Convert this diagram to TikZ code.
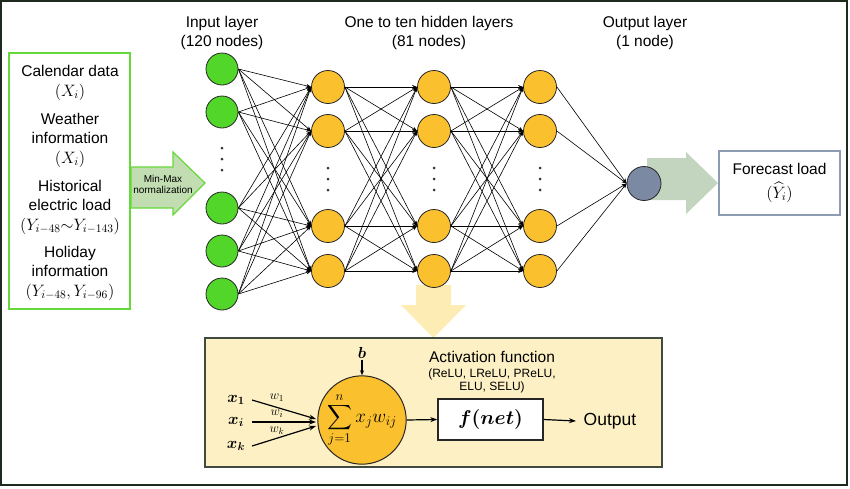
\RequirePackage{fix-cm}
\documentclass[tikz,border=0pt]{standalone}
\usepackage{amsmath}
\usepackage{bm}
\usepackage{fontspec}
\setmainfont{Liberation Sans}
\usetikzlibrary{arrows.meta}
\definecolor{ngreen}{HTML}{52D62A}
\definecolor{nyellow}{HTML}{FBC02D}
\definecolor{nout}{HTML}{7B89A3}
\definecolor{boxgreen}{HTML}{66D93A}
\definecolor{mmfill}{HTML}{C2DDB2}
\definecolor{outarrow}{HTML}{C3D4BF}
\definecolor{fcborder}{HTML}{8D9CB3}
\definecolor{botfill}{HTML}{FDF0C4}
\definecolor{downarrow}{HTML}{FDEDB5}
\definecolor{frame}{HTML}{1E2A1E}
\newcommand{\mbig}[1]{{\fontsize{16.5}{19.5}\selectfont$#1$}}
\tikzset{
  lbl/.style={font=\fontsize{15.5}{19.5}\selectfont, align=center, inner sep=0pt},
  small/.style={font=\fontsize{12}{13.5}\selectfont, align=center, inner sep=0pt},
  inn/.style={circle, draw=black!85, line width=0.8pt, fill=ngreen, minimum size=32pt, inner sep=0pt},
  hid/.style={circle, draw=black!85, line width=0.8pt, fill=nyellow, minimum size=33pt, inner sep=0pt},
  netedge/.style={line width=0.6pt, -{Stealth[length=5pt,width=4pt]}},
  dotc/.style={circle, fill=black!80, inner sep=0pt, minimum size=3pt},
  bigedge/.style={line width=1.2pt, -{Stealth[length=7pt,width=5pt]}},
}
\begin{document}
\begin{tikzpicture}[x=1pt,y=-1pt]
\useasboundingbox (0,0) rectangle (850,488);
\draw[frame, line width=1.5pt] (1,1) rectangle (847,485);

% top labels
\node[lbl] (tin) at (222,33) {Input layer\\(120 nodes)};
\node[lbl] (thid) at (429,33) {One to ten hidden layers\\(81 nodes)};
\node[lbl] (tout) at (645,33) {Output layer\\(1 node)};

% input box
\node[draw=boxgreen, line width=2pt, minimum width=121pt, minimum height=256pt, inner sep=0pt] (inbox) at (69.5,181) {};
\node[lbl] (g1) at (70,83) {Calendar data\\\mbig{(X_i)}};
\node[lbl] (g2) at (70,140) {Weather\\information\\\mbig{(X_i)}};
\node[lbl] (g3) at (70,207) {Historical\\electric load\\\mbig{(Y_{i-48}{\sim}Y_{i-143})}};
\node[lbl] (g4) at (70,273) {Holiday\\information\\\mbig{(Y_{i-48},Y_{i-96})}};

% min-max arrow
\draw[boxgreen, line width=1.2pt, fill=mmfill] (131,167) -- (173,167) -- (173,152) -- (205,183) -- (173,215) -- (173,208) -- (131,208) -- cycle;
\node[font=\fontsize{10}{11}\selectfont, align=center, inner sep=0pt] (mm) at (163,184) {Min-Max\\normalization};

% output arrow
\fill[outarrow] (647,158) -- (686,158) -- (686,152) -- (718,183) -- (686,214) -- (686,200) -- (647,200) -- cycle;

% down arrow
\fill[downarrow] (416,285) -- (451,285) -- (451,305) -- (466,305) -- (433.5,338) -- (401,305) -- (416,305) -- cycle;

% nodes
\foreach \y [count=\k] in {69,112,208,251,294} \node[inn] (i\k) at (222,\y) {};
\foreach \x/\L in {328/a,434/b,540/c}
  \foreach \y [count=\k] in {87,131,226,271} \node[hid] (\L\k) at (\x,\y) {};
\node[circle, draw=black!85, line width=0.8pt, fill=nout, minimum size=34pt, inner sep=0pt] (o) at (644,183.5) {};

% dots
\foreach \y [count=\k] in {148,159,170} \node[dotc] (di\k) at (222,\y) {};
\foreach \x/\L in {328/a,434/b,540/c}
  \foreach \y [count=\k] in {168,179,190} \node[dotc] (d\L\k) at (\x,\y) {};

% edges
\foreach \s in {1,...,5} \foreach \t in {1,...,4} \draw[netedge] (i\s.east) -- (a\t.west);
\foreach \s in {1,...,4} \foreach \t in {1,...,4} {
  \draw[netedge] (a\s.east) -- (b\t.west);
  \draw[netedge] (b\s.east) -- (c\t.west);
}
\foreach \s in {1,...,4} \draw[netedge] (c\s.east) -- (o.west);

% forecast
\node[lbl, draw=fcborder, line width=2pt, minimum width=121pt, minimum height=64pt] (fc) at (779.5,183) {Forecast load\\[4pt]\mbig{(\widehat{Y}_i)}};

% bottom panel
\node[draw=frame!85, line width=1.5pt, fill=botfill, minimum width=457pt, minimum height=129pt, inner sep=0pt] (panel) at (433.5,402.5) {};
\node[circle, draw=black!85, line width=1pt, fill=nyellow, minimum size=88pt, inner sep=0pt, font=\fontsize{19}{21}\selectfont] (sum) at (362,420) {$\displaystyle\sum_{j=1}^{n} x_j w_{ij}$};
\node[inner sep=1pt, font=\fontsize{16}{18}\selectfont] (b) at (362,353) {$\bm{b}$};
\draw[line width=1.2pt, -{Stealth[length=5pt,width=4pt]}] (b.south) -- (sum.north);

\node[inner sep=0pt, font=\fontsize{16}{18}\selectfont] (x1) at (236,400) {$\bm{x_1}$};
\node[inner sep=0pt, font=\fontsize{16}{18}\selectfont] (xi) at (236,422) {$\bm{x_i}$};
\node[inner sep=0pt, font=\fontsize{16}{18}\selectfont] (xk) at (236,446) {$\bm{x_k}$};
\coordinate (e1) at (316,419);
\coordinate (ei) at (316,422);
\coordinate (ek) at (316,426);
\draw[bigedge] (252,400) -- (e1);
\draw[bigedge] (252,422) -- (ei);
\draw[bigedge] (252,446) -- (ek);
\node[inner sep=0pt, font=\fontsize{13}{14}\selectfont] (w1) at (277,398) {$w_1$};
\node[inner sep=0pt, font=\fontsize{13}{14}\selectfont] (wi) at (277,414) {$w_i$};
\node[inner sep=0pt, font=\fontsize{13}{14}\selectfont] (wk) at (277,431) {$w_k$};

\node[lbl] (act) at (492,357) {Activation function};
\node[small] (actl) at (492,381) {(ReLU, LReLU, PReLU,\\ELU, SELU)};

\node[draw=black!85, line width=1.5pt, fill=white, minimum width=105pt, minimum height=41pt, inner sep=0pt, font=\fontsize{20}{22}\selectfont] (f) at (490.5,419.5) {$\bm{f(net)}$};
\draw[bigedge] (sum.east) -- (f.west);
\node[inner sep=0pt, font=\fontsize{17.5}{20}\selectfont] (outp) at (610,421) {Output};
\coordinate (oin) at (576,421);
\draw[bigedge] (f.east) -- (oin);
\end{tikzpicture}
\end{document}
